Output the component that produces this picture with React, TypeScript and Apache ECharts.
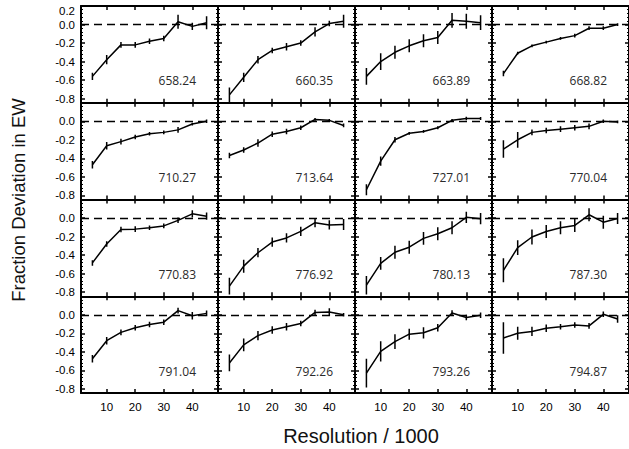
import React, { useEffect, useRef } from "react";
import * as echarts from "echarts";

const resolution = [5, 10, 15, 20, 25, 30, 35, 40, 45];
const panelLabels = [
  "658.24", "660.35", "663.89", "668.82",
  "710.27", "713.64", "727.01", "770.04",
  "770.83", "776.92", "780.13", "787.30",
  "791.04", "792.26", "793.26", "794.87",
];
const xTickValues = [10, 20, 30, 40];
const yTickValues = [-0.8, -0.6, -0.4, -0.2, 0.0];
const yTickValuesTop = [-0.8, -0.6, -0.4, -0.2, 0.0, 0.2];

const dev658 = [-0.56, -0.38, -0.22, -0.22, -0.18, -0.15, 0.03, -0.02, 0.02];
const err658 = [0.04, 0.05, 0.03, 0.03, 0.03, 0.03, 0.075, 0.04, 0.07];
const dev660 = [-0.76, -0.57, -0.38, -0.28, -0.24, -0.2, -0.08, 0.01, 0.035];
const err660 = [0.08, 0.05, 0.04, 0.03, 0.04, 0.03, 0.05, 0.03, 0.07];
const dev663 = [-0.56, -0.4, -0.3, -0.23, -0.175, -0.14, 0.045, 0.035, 0.02];
const err663 = [0.09, 0.09, 0.07, 0.07, 0.07, 0.07, 0.08, 0.08, 0.08];
const dev668 = [-0.53, -0.31, -0.23, -0.19, -0.15, -0.12, -0.04, -0.04, 0.0];
const err668 = [0.03, 0.015, 0.015, 0.015, 0.015, 0.02, 0.02, 0.02, 0.015];
const dev710 = [-0.47, -0.265, -0.22, -0.17, -0.135, -0.12, -0.093, -0.03, 0.0];
const err710 = [0.04, 0.04, 0.03, 0.025, 0.02, 0.02, 0.03, 0.015, 0.02];
const dev713 = [-0.37, -0.31, -0.235, -0.14, -0.11, -0.07, 0.02, 0.01, -0.045];
const err713 = [0.03, 0.03, 0.04, 0.03, 0.03, 0.025, 0.015, 0.015, 0.02];
const dev727 = [-0.74, -0.43, -0.2, -0.13, -0.11, -0.07, 0.01, 0.03, 0.03];
const err727 = [0.06, 0.05, 0.03, 0.015, 0.015, 0.015, 0.015, 0.02, 0.015];
const dev770a = [-0.3, -0.2, -0.12, -0.1, -0.085, -0.07, -0.055, 0.0, -0.007];
const err770a = [0.095, 0.085, 0.03, 0.03, 0.03, 0.03, 0.03, 0.02, 0.015];
const dev770b = [-0.485, -0.28, -0.125, -0.12, -0.105, -0.085, -0.025, 0.045, 0.02];
const err770b = [0.03, 0.03, 0.03, 0.03, 0.025, 0.025, 0.03, 0.04, 0.04];
const dev776 = [-0.735, -0.52, -0.375, -0.26, -0.215, -0.145, -0.05, -0.075, -0.07];
const err776 = [0.09, 0.07, 0.05, 0.05, 0.05, 0.05, 0.05, 0.05, 0.06];
const dev780 = [-0.725, -0.49, -0.37, -0.315, -0.22, -0.17, -0.105, 0.007, -0.007];
const err780 = [0.1, 0.07, 0.07, 0.07, 0.07, 0.07, 0.07, 0.06, 0.06];
const dev787 = [-0.565, -0.32, -0.205, -0.145, -0.105, -0.08, 0.035, -0.045, -0.005];
const err787 = [0.13, 0.08, 0.08, 0.07, 0.07, 0.07, 0.07, 0.07, 0.06];
const dev791 = [-0.475, -0.28, -0.19, -0.14, -0.105, -0.08, 0.045, -0.01, 0.015];
const err791 = [0.04, 0.04, 0.03, 0.03, 0.03, 0.03, 0.03, 0.04, 0.03];
const dev792 = [-0.52, -0.325, -0.225, -0.165, -0.13, -0.095, 0.025, 0.03, 0.0];
const err792 = [0.09, 0.07, 0.05, 0.04, 0.04, 0.03, 0.03, 0.04, 0.02];
const dev793 = [-0.63, -0.395, -0.29, -0.21, -0.195, -0.14, 0.02, -0.03, -0.005];
const err793 = [0.155, 0.11, 0.08, 0.06, 0.06, 0.04, 0.03, 0.03, 0.03];
const dev794 = [-0.25, -0.2, -0.18, -0.145, -0.13, -0.11, -0.12, 0.005, -0.045];
const err794 = [0.17, 0.07, 0.05, 0.04, 0.03, 0.03, 0.03, 0.03, 0.04];

const deviations = [
  dev658, dev660, dev663, dev668,
  dev710, dev713, dev727, dev770a,
  dev770b, dev776, dev780, dev787,
  dev791, dev792, dev793, dev794,
];
const errors = [
  err658, err660, err663, err668,
  err710, err713, err727, err770a,
  err770b, err776, err780, err787,
  err791, err792, err793, err794,
];

const W = 629;
const H = 449;
const LEFT = 81;
const TOP = 6;
const PW = 137;
const PH = 96.75;
const Y_MIN = -0.845;
const Y_MAX = 0.2;
const X_MIN = 1;
const X_MAX = 49;
const FONT = "'Liberation Sans', Arial, Helvetica, sans-serif";

export default function App() {
  const ref = useRef<HTMLDivElement>(null);

  useEffect(() => {
    if (!ref.current) return;
    const chart = echarts.init(ref.current, null, { renderer: "svg" });

    const grids: any[] = [];
    const xAxes: any[] = [];
    const yAxes: any[] = [];
    const series: any[] = [];
    const graphics: any[] = [];

    const axisLine = { show: true, onZero: false, lineStyle: { color: "#000", width: 2 } };

    for (let i = 0; i < 16; i++) {
      const r = Math.floor(i / 4);
      const c = i % 4;
      const left = LEFT + c * PW;
      const top = TOP + r * PH;
      grids.push({ left, top, width: PW, height: PH, containLabel: false });

      const baseX = {
        type: "value",
        gridIndex: i,
        min: X_MIN,
        max: X_MAX,
        splitLine: { show: false },
        axisLine,
        axisTick: {
          show: true,
          inside: true,
          length: 4,
          customValues: xTickValues,
          lineStyle: { color: "#000", width: 1.5 },
        },
      };
      xAxes.push({
        ...baseX,
        position: "bottom",
        axisLabel: {
          show: r === 3,
          customValues: xTickValues,
          fontFamily: FONT,
          fontSize: 11.5,
          color: "#000",
          margin: 8,
        },
      });
      xAxes.push({ ...baseX, position: "top", axisLabel: { show: false } });

      const ticks = r === 0 ? yTickValuesTop : yTickValues;
      const baseY = {
        type: "value",
        gridIndex: i,
        min: Y_MIN,
        max: Y_MAX,
        splitLine: { show: false },
        axisLine,
        axisTick: {
          show: true,
          inside: true,
          length: 4,
          customValues: yTickValues,
          lineStyle: { color: "#000", width: 1.5 },
        },
        minorTick: { show: true, splitNumber: 5, length: 2, lineStyle: { color: "#000", width: 1 } },
      };
      yAxes.push({
        ...baseY,
        position: "left",
        axisLabel: {
          show: c === 0,
          customValues: ticks,
          fontFamily: FONT,
          fontSize: 11.5,
          color: "#000",
          margin: 6,
          formatter: (v: number) =>
            v > 0.1 ? "{top|" + v.toFixed(1) + "}" : v.toFixed(1),
          rich: {
            top: {
              fontFamily: FONT,
              fontSize: 11.5,
              color: "#000",
              padding: [9, 0, 0, 0],
            },
          },
        },
      });
      yAxes.push({ ...baseY, position: "right", axisLabel: { show: false } });

      const dev = deviations[i];
      const err = errors[i];
      series.push({
        type: "line",
        xAxisIndex: 2 * i,
        yAxisIndex: 2 * i,
        data: resolution.map((x, k) => [x, dev[k]]),
        symbol: "none",
        lineStyle: { color: "#000", width: 1.5 },
        silent: true,
        markLine: {
          silent: true,
          symbol: "none",
          label: { show: false },
          lineStyle: { color: "#000", width: 1.3, type: [8, 5] },
          data: [{ yAxis: 0 }],
        },
      });
      series.push({
        type: "custom",
        xAxisIndex: 2 * i,
        yAxisIndex: 2 * i,
        clip: true,
        silent: true,
        data: resolution.map((x, k) => [x, dev[k] - err[k], dev[k] + err[k]]),
        renderItem: (params: any, api: any) => {
          const p1 = api.coord([api.value(0), api.value(1)]);
          const p2 = api.coord([api.value(0), api.value(2)]);
          return {
            type: "line",
            shape: { x1: p1[0], y1: p1[1], x2: p2[0], y2: p2[1] },
            style: { stroke: "#000", lineWidth: 1.5 },
          };
        },
      });

      graphics.push({
        type: "text",
        x: left + 115,
        y: top + 74.8,
        silent: true,
        style: {
          text: panelLabels[i],
          fontFamily: "'Open Sans', 'Noto Sans', sans-serif",
          fontSize: 12,
          fill: "#2a2a2a",
          textAlign: "right",
          textVerticalAlign: "middle",
        },
      });
    }

    graphics.push({
      type: "text",
      x: 18,
      y: 200,
      rotation: Math.PI / 2,
      silent: true,
      style: {
        text: "Fraction Deviation in EW",
        fontFamily: FONT,
        fontSize: 18.5,
        fill: "#111",
        textAlign: "center",
        textVerticalAlign: "middle",
      },
    });
    graphics.push({
      type: "text",
      x: 361,
      y: 436,
      silent: true,
      style: {
        text: "Resolution / 1000",
        fontFamily: FONT,
        fontSize: 20,
        fill: "#111",
        textAlign: "center",
        textVerticalAlign: "middle",
      },
    });

    chart.setOption({
      animation: false,
      backgroundColor: "#fff",
      grid: grids,
      xAxis: xAxes,
      yAxis: yAxes,
      series,
      graphic: graphics,
    });

    return () => chart.dispose();
  }, []);

  return (
    <div
      ref={ref}
      style={{ position: "absolute", left: 0, top: 0, width: W, height: H }}
    />
  );
}
